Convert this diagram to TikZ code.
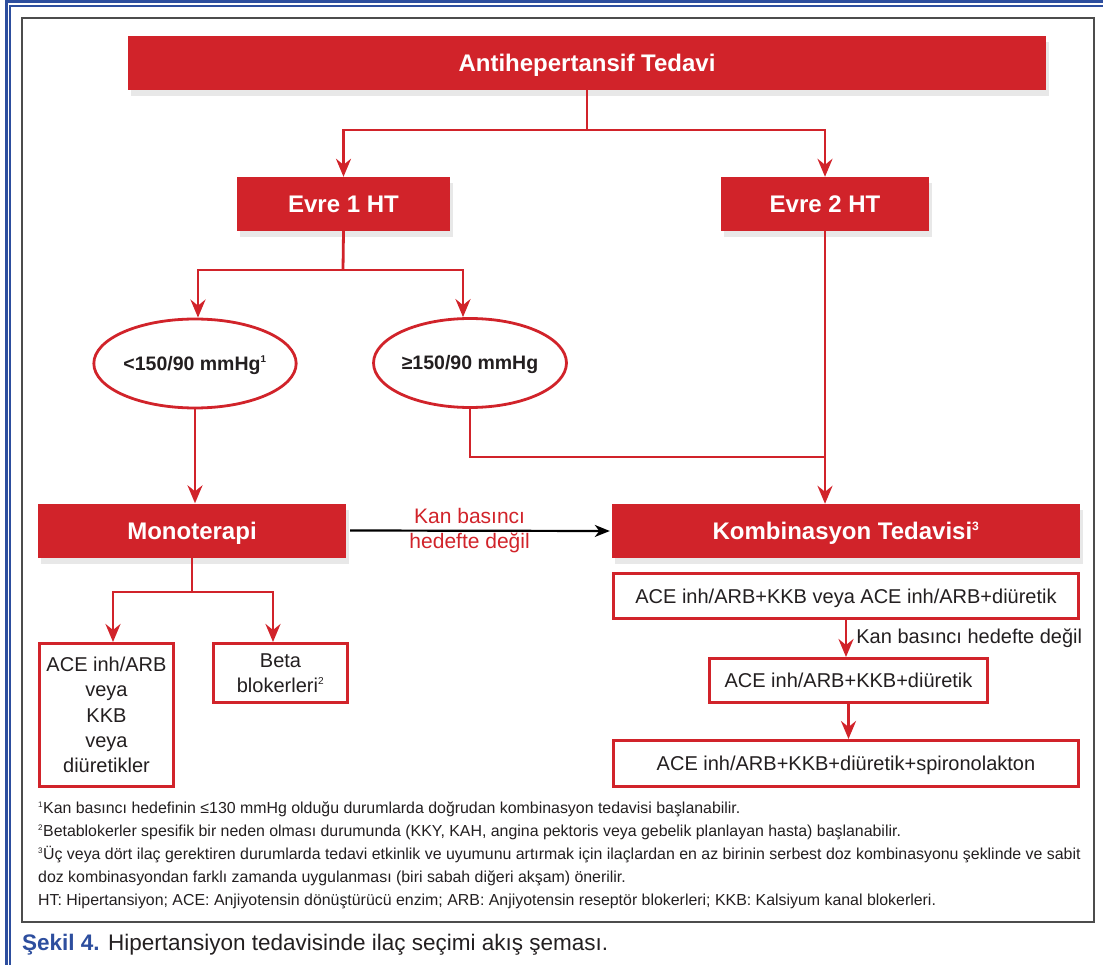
\documentclass[tikz,border=0pt]{standalone}
\usepackage{fontspec}
\setmainfont{Liberation Sans}
\usetikzlibrary{shapes.geometric,arrows.meta,shadows}
\definecolor{hred}{HTML}{D1232A}
\definecolor{hblue}{HTML}{2D4E9E}
\definecolor{htext}{HTML}{231F20}
\newcommand{\fnmark}[1]{\textsuperscript{\scalebox{0.72}{#1}}}

\begin{document}
\begin{tikzpicture}
	[x=1pt, y=-1pt,
	redbox/.style={rectangle, fill=hred, text=white, inner sep=0pt, minimum height=54pt, text height=17.2pt, text depth=0pt, font=\fontsize{24}{28}\selectfont\bfseries, drop shadow={shadow xshift=3pt, shadow yshift=-6pt, opacity=0.18}},
	oval/.style={ellipse, draw=hred, line width=2.8pt, fill=white, text=htext, inner sep=0pt, minimum width=172pt, minimum height=89pt, text height=14pt, text depth=0pt, font=\fontsize{19.5}{24}\selectfont\bfseries},
	drugbox/.style={rectangle, draw=hred, line width=3pt, fill=white, text=htext, inner sep=0pt, align=center, font=\fontsize{20}{25.3}\selectfont},
	link/.style={draw=hred, line width=2.8pt, -{Stealth[length=18pt, width=15pt, inset=6pt]}},
	wire/.style={draw=hred, line width=2.8pt}]
	\useasboundingbox (0,0) rectangle (1103,965);
	\draw[hblue, line width=3pt] (6,965) -- (6,2) -- (1103,2);
	\draw[hblue, line width=1.2pt] (10,965) -- (10,6) -- (1103,6);
	\draw[gray!60!black, line width=1.2pt] (22,18) rectangle (1094,922);

	\node[redbox, minimum width=918pt] (root) at (587,63) {Antihepertansif Tedavi};
	\node[redbox, minimum width=213pt] (evre1) at (343.5,204) {Evre 1 HT};
	\node[redbox, minimum width=208pt] (evre2) at (825,204) {Evre 2 HT};
	\node[oval] (low) at (195,363.5) {<150/90 mmHg\fnmark{1}};
	\node[oval] (high) at (470,363) {≥150/90 mmHg};
	\node[redbox, minimum width=308pt] (mono) at (192,530.5) {Monoterapi};
	\node[redbox, minimum width=468pt] (komb) at (846,531) {Kombinasyon Tedavisi\fnmark{3}};
	\node[drugbox, minimum width=465pt, minimum height=45pt, text height=14.3pt, text depth=0pt] (dual) at (846,596) {ACE inh/ARB+KKB veya ACE inh/ARB+diüretik};
	\node[drugbox, minimum width=278pt, minimum height=44pt, text height=14.3pt, text depth=0pt] (triple) at (848.5,680.5) {ACE inh/ARB+KKB+diüretik};
	\node[drugbox, minimum width=465pt, minimum height=46pt, text height=14.3pt, text depth=0pt] (quad) at (846,763.5) {ACE inh/ARB+KKB+diüretik+spironolakton};
	\node[drugbox, minimum width=134pt, minimum height=143pt] (first) at (106.5,715) {ACE inh/ARB\\veya\\KKB\\veya\\diüretikler};
	\node[drugbox, minimum width=134pt, minimum height=59pt] (beta) at (280.5,673) {Beta\\blokerleri\fnmark{2}};

	\coordinate (topfork) at (587,130);
	\coordinate (midfork) at (343,270);
	\coordinate (join) at (825,457);
	\coordinate (lowfork) at (192,592);
	\draw[wire] (root.south) -- (topfork);
	\draw[link] (topfork) -| (evre1.north);
	\draw[link] (topfork) -| (evre2.north);
	\draw[wire] (evre1.south) -- (midfork);
	\draw[link] (midfork) -| ([xshift=3pt]low.north);
	\draw[link] (midfork) -| ([xshift=-7pt]high.north);
	\draw[link] (low.south) -- (low.south |- mono.north);
	\draw[wire] (high.south) |- (join);
	\draw[link] (evre2.south) -- (evre2.south |- komb.north);
	\draw[black, line width=2.2pt, -{Stealth[length=15pt, width=12pt, inset=4.5pt]}] ([xshift=4pt]mono.east) -- ([xshift=-2pt]komb.west)
		node[pos=0.46, align=center, text=hred, inner sep=0pt, font=\fontsize{21}{25}\selectfont] (mislabel) {Kan basıncı\\hedefte değil};
	\draw[wire] (mono.south) -- (lowfork);
	\draw[link] (lowfork) -| ([xshift=6.5pt]first.north);
	\draw[link] (lowfork) -| ([xshift=-7.5pt]beta.north);
	\draw[link] (dual.south) -- (dual.south |- triple.north)
		node[midway, anchor=west, xshift=9pt, inner sep=0pt, text=htext, font=\fontsize{20}{24}\selectfont] (misnote) {Kan basıncı hedefte değil};
	\draw[link] (triple.south) -- (triple.south |- quad.north);

	\node[anchor=base west, align=left, inner sep=0pt, text=htext, font=\fontsize{15.9}{22.8}\selectfont] (notes) at (38,905)
		{\fnmark{1}Kan basıncı hedefinin ≤130 mmHg olduğu durumlarda doğrudan kombinasyon tedavisi başlanabilir.\\
		\fnmark{2}Betablokerler spesifik bir neden olması durumunda (KKY, KAH, angina pektoris veya gebelik planlayan hasta) başlanabilir.\\
		\fnmark{3}Üç veya dört ilaç gerektiren durumlarda tedavi etkinlik ve uyumunu artırmak için ilaçlardan en az birinin serbest doz kombinasyonu şeklinde ve sabit\\
		doz kombinasyondan farklı zamanda uygulanması (biri sabah diğeri akşam) önerilir.\\
		HT: Hipertansiyon; ACE: Anjiyotensin dönüştürücü enzim; ARB: Anjiyotensin reseptör blokerleri; KKB: Kalsiyum kanal blokerleri.};
	\node[anchor=base west, inner sep=0pt, text=htext, font=\fontsize{22.5}{26}\selectfont] (caption) at (22,950)
		{\textcolor{hblue}{\bfseries Şekil 4.} Hipertansiyon tedavisinde ilaç seçimi akış şeması.};
\end{tikzpicture}
\end{document}
